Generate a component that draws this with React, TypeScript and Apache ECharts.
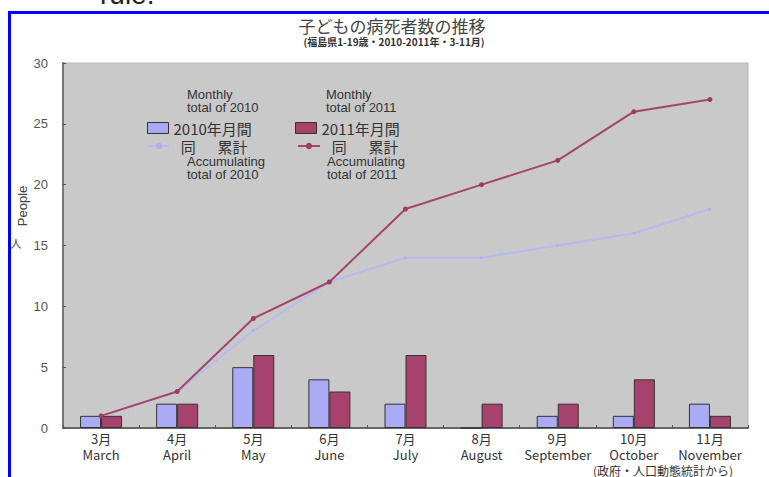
import React, { useEffect, useRef } from "react";
import * as echarts from "echarts";

const monthsJa = ["3月", "4月", "5月", "6月", "7月", "8月", "9月", "10月", "11月"];
const monthsEn = ["March", "April", "May", "June", "July", "August", "September", "October", "November"];
const monthly2010 = [1, 2, 5, 4, 2, 0, 1, 1, 2];
const monthly2011 = [1, 2, 6, 3, 6, 2, 2, 4, 1];
const cumulative2010 = [1, 3, 8, 12, 14, 14, 15, 16, 18];
const cumulative2011 = [1, 3, 9, 12, 18, 20, 22, 26, 27];
const yTicks = { min: 0, max: 30, interval: 5 };

const FONT = 'Arial, "Liberation Sans", "Noto Sans CJK JP", sans-serif';
const CJK = '"Noto Sans CJK JP", Arial, sans-serif';

export default function App() {
  const ref = useRef<HTMLDivElement>(null);
  useEffect(() => {
    if (!ref.current) return;
    const chart = echarts.init(ref.current, null, { renderer: "svg" });
    const categories = monthsJa.map((m, i) => m + "\n" + monthsEn[i]);
    const legendBase = {
      orient: "horizontal",
      padding: 0,
      itemGap: 0,
      selectedMode: false,
      textStyle: { fontSize: 15, lineHeight: 16, color: "#333", fontFamily: CJK },
    };
    chart.setOption({
      animation: false,
      backgroundColor: "#ffffff",
      textStyle: { fontFamily: FONT },
      grid: {
        left: 63,
        top: 63,
        width: 685,
        height: 365,
        show: true,
        backgroundColor: "#c9c9c9",
        borderColor: "#b5b5b5",
        borderWidth: 1,
      },
      legend: [
        { ...legendBase, data: ["2010年月間"], left: 147, top: 120, itemWidth: 21, itemHeight: 11, icon: "rect", itemStyle: { borderColor: "#333", borderWidth: 1 } },
        { ...legendBase, data: ["2011年月間"], left: 295, top: 120, itemWidth: 21, itemHeight: 11, icon: "rect", itemStyle: { borderColor: "#333", borderWidth: 1 } },
        { ...legendBase, data: ["2010累計"], left: 148, top: 138, itemWidth: 20, itemHeight: 8, formatter: () => "  同　  累計" },
        { ...legendBase, data: ["2011累計"], left: 297, top: 138, itemWidth: 22, itemHeight: 8, formatter: () => "  同　  累計" },
      ],
      xAxis: {
        type: "category",
        data: categories,
        boundaryGap: true,
        axisLine: { show: true, lineStyle: { color: "#666", width: 2 } },
        axisTick: { show: true, inside: true, length: 3, lineStyle: { color: "#555" } },
        axisLabel: { interval: 0, margin: 2, fontSize: 13, lineHeight: 16, color: "#333", fontFamily: CJK },
        splitLine: { show: false },
      },
      yAxis: {
        type: "value",
        min: yTicks.min,
        max: yTicks.max,
        interval: yTicks.interval,
        axisLine: { show: true, lineStyle: { color: "#777", width: 2 } },
        axisTick: { show: true, inside: true, length: 3, lineStyle: { color: "#555" } },
        axisLabel: { margin: 15, fontSize: 13, color: "#555", fontFamily: FONT },
        splitLine: { show: false },
      },
      series: [
        {
          name: "2010年月間",
          type: "bar",
          data: monthly2010,
          barWidth: 21,
          barGap: "0%",
          itemStyle: { color: "#aaabf4", borderColor: "#333", borderWidth: 1 },
        },
        {
          name: "2011年月間",
          type: "bar",
          data: monthly2011,
          barWidth: 21,
          barGap: "0%",
          itemStyle: { color: "#a7426d", borderColor: "#333", borderWidth: 1 },
        },
        {
          name: "2010累計",
          type: "line",
          data: cumulative2010,
          symbol: "circle",
          symbolSize: 3,
          lineStyle: { color: "#b9baf0", width: 2 },
          itemStyle: { color: "#b0b1ec" },
        },
        {
          name: "2011累計",
          type: "line",
          data: cumulative2011,
          symbol: "circle",
          symbolSize: 5,
          lineStyle: { color: "#a3456c", width: 2 },
          itemStyle: { color: "#9a3d63" },
        },
      ],
      graphic: [
        { type: "text", left: 100, top: -20, z: 1, style: { text: "rule.", fontSize: 28, fill: "#222", fontFamily: FONT } },
        { type: "line", z: 10, shape: { x1: 8, y1: 12.5, x2: 769, y2: 12.5 }, style: { stroke: "#0000ff", lineWidth: 3 } },
        { type: "line", z: 10, shape: { x1: 9.5, y1: 11, x2: 9.5, y2: 477 }, style: { stroke: "#0000ff", lineWidth: 3 } },
        { type: "text", x: 392, y: 25, style: { text: "子どもの病死者数の推移", fontSize: 17, fill: "#444", align: "center", verticalAlign: "middle", fontFamily: CJK } },
        { type: "text", x: 394, y: 41.5, style: { text: "(福島県1-19歳・2010-2011年・3-11月)", fontSize: 10, fontWeight: "bold", fill: "#333", align: "center", verticalAlign: "middle", fontFamily: CJK } },
        { type: "text", x: 22, y: 206, rotation: Math.PI / 2, style: { text: "People", fontSize: 13, fill: "#444", align: "center", verticalAlign: "middle", fontFamily: FONT } },
        { type: "text", x: 16, y: 243, style: { text: "人", fontSize: 11, fill: "#444", align: "center", verticalAlign: "middle", fontFamily: CJK } },
        { type: "text", x: 187, y: 88, style: { text: "Monthly\ntotal of 2010", fontSize: 13, lineHeight: 13, fill: "#333", fontFamily: FONT } },
        { type: "text", x: 326, y: 88, style: { text: "Monthly\ntotal of 2011", fontSize: 13, lineHeight: 13, fill: "#333", fontFamily: FONT } },
        { type: "text", x: 187, y: 155, style: { text: "Accumulating\ntotal of 2010", fontSize: 13, lineHeight: 13, fill: "#333", fontFamily: FONT } },
        { type: "text", x: 327, y: 155, style: { text: "Accumulating\ntotal of 2011", fontSize: 13, lineHeight: 13, fill: "#333", fontFamily: FONT } },
        { type: "text", x: 663, y: 470, style: { text: "(政府・人口動態統計から)", fontSize: 12, fill: "#333", align: "center", verticalAlign: "middle", fontFamily: CJK } },
      ],
    });
    return () => chart.dispose();
  }, []);
  return (
    <div
      ref={ref}
      style={{ position: "fixed", left: 0, top: 0, width: 769, height: 477, background: "#fff" }}
    />
  );
}
